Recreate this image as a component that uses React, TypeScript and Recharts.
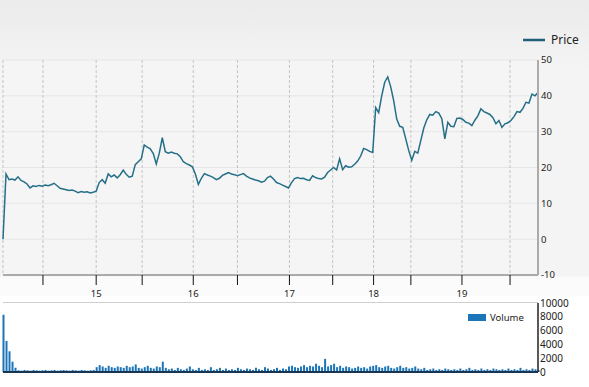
import React from "react";
import { Bar, BarChart, CartesianGrid, Line, LineChart, XAxis, YAxis } from "recharts";

// one value per trading period, left to right
const prices = [
	0, 18.2, 16.6, 16.8, 16.5, 17.4, 16.4, 16.0, 15.4, 14.3,
	14.9, 14.7, 15.0, 14.8, 15.1, 14.9, 15.2, 15.6, 14.9, 14.2,
	14.0, 13.8, 13.6, 13.7, 13.4, 13.0, 13.3, 13.1, 13.2, 12.9,
	13.1, 13.4, 15.8, 16.6, 15.6, 18.2, 17.4, 17.9, 17.1, 18.0,
	19.3, 18.1, 17.3, 17.6, 20.8, 21.6, 22.4, 26.3, 25.7, 25.2,
	23.9, 21.0, 24.0, 28.3, 24.4, 24.0, 24.3, 24.0, 23.8, 23.0,
	21.6, 21.1, 20.7, 20.2, 18.2, 15.3, 17.0, 18.3, 17.9, 17.6,
	17.2, 16.6, 17.0, 17.8, 18.2, 18.6, 18.2, 18.0, 17.7, 18.0,
	18.3, 17.6, 17.1, 16.8, 16.5, 16.3, 15.9, 16.2, 17.2, 17.6,
	16.8, 15.8, 15.5, 15.1, 14.7, 14.3, 15.8, 16.9, 17.2, 16.9,
	17.0, 16.6, 16.4, 17.7, 17.2, 16.9, 16.8, 17.3, 18.6, 19.3,
	20.0, 19.3, 22.4, 19.4, 20.5, 20.1, 20.2, 20.9, 21.8, 23.2,
	25.3, 25.0, 24.5, 24.2, 36.7, 35.3, 40.0, 43.8, 45.3, 42.5,
	38.6, 33.5, 31.5, 31.2, 28.0, 24.7, 22.0, 24.5, 24.0, 27.5,
	31.0, 33.3, 34.8, 34.6, 35.6, 35.2, 33.6, 28.0, 32.6, 31.5,
	31.4, 33.7, 33.8, 33.4, 32.6, 32.4, 31.7, 33.2, 34.4, 36.4,
	35.6, 35.2, 34.8, 33.9, 32.2, 33.1, 31.2, 32.2, 32.5, 33.1,
	34.2, 35.6, 35.4, 36.5, 38.2, 38.0, 40.5, 40.0, 40.9,
];

const volumes = [
	8300, 4500, 3000, 1500, 600, 250, 200, 300, 250, 200,
	300, 250, 200, 250, 300, 200, 250, 300, 200, 250,
	300, 250, 200, 300, 250, 200, 300, 250, 200, 250,
	300, 700, 1000, 800, 600, 900, 700, 600, 800, 700,
	600, 900, 700, 800, 1100, 600, 500, 700, 900, 600,
	500, 800, 700, 1500, 600, 400, 500, 300, 600, 400,
	300, 500, 800, 400, 300, 600, 300, 400, 300, 700,
	300, 400, 600, 300, 500, 300, 400, 300, 600, 400,
	300, 500, 400, 300, 600, 400, 300, 700, 500, 300,
	400, 600, 300, 500, 400, 800, 900, 700, 600, 800,
	1000, 700, 900, 800, 1200, 900, 700, 1900, 800, 1000,
	1200, 700, 900, 600, 800, 700, 500, 600, 800, 600,
	700, 500, 800, 900, 1000, 700, 600, 800, 900, 600,
	500, 700, 900, 600, 700, 500, 600, 800, 500, 400,
	600, 300, 400, 500, 300, 400, 300, 500, 400, 300,
	400, 300, 500, 300, 400, 600, 300, 400, 300, 500,
	300, 400, 300, 500, 400, 300, 400, 300, 500, 300,
	400, 300, 600, 300, 400, 300, 500, 400, 300,
];

const xTicks = [13.3, 31, 46.3, 63.3, 78, 95.3, 109.7, 123.3, 135.7, 152.7, 168.7];
const xTickLabels = ["", "15", "", "16", "", "17", "", "18", "", "19", ""];
const priceTicks = [-10, 0, 10, 20, 30, 40, 50];
const volumeTicks = [0, 2000, 4000, 6000, 8000, 10000];

const data = prices.map((price, i) => ({ i, price, volume: volumes[i] }));

const font = "'Noto Sans', 'DejaVu Sans', sans-serif";

export default function App() {
	return (
		<div
			style={{
				position: "absolute",
				left: 0,
				top: 0,
				width: 589,
				height: 387,
				background: "linear-gradient(#ebebeb, #f4f4f4 70px, #f4f4f4 276px, #fbfbfb 277px, #fbfbfb)",
				fontFamily: font,
				overflow: "hidden",
			}}
		>
			{/* volume panel goes first so the price axis labels sit above it */}
			<div
				style={{
					position: "absolute",
					left: 0,
					top: 296,
					width: 589,
					height: 91,
					background: "#fff",
				}}
			>
				<div
					style={{
						position: "absolute",
						left: 3,
						top: 6,
						width: 535,
						height: 1,
						background: "#cfcfcf",
					}}
				/>
				<div
					style={{
						position: "absolute",
						left: 468,
						top: 15,
						display: "flex",
						alignItems: "center",
						fontSize: 9.5,
						color: "#222",
					}}
				>
					<div style={{ width: 18, height: 7, background: "#1b75b8", marginRight: 4 }} />
					<span>Volume</span>
				</div>
				<BarChart
					width={589}
					height={91}
					data={data}
					margin={{ top: 7, right: 0, bottom: 14, left: 3 }}
					barCategoryGap={0}
				>
					<XAxis
						dataKey="i"
						type="number"
						domain={[0, prices.length - 1]}
						tick={false}
						tickLine={false}
						height={1}
						axisLine={{ stroke: "#1a3552", strokeWidth: 2 }}
					/>
					<YAxis
						orientation="right"
						width={51}
						domain={[0, 10000]}
						ticks={volumeTicks}
						axisLine={{ stroke: "#222", strokeWidth: 1.5 }}
						tickLine={false}
						tickSize={0}
						tickMargin={2}
						tick={{ fontSize: 10, fill: "#222", fontFamily: font }}
						interval={0}
					/>
					<Bar dataKey="volume" fill="#1b75b8" barSize={2} isAnimationActive={false} />
				</BarChart>
			</div>

			<div
				style={{
					position: "absolute",
					left: 523,
					top: 31,
					display: "flex",
					alignItems: "center",
					fontSize: 12,
					color: "#222",
				}}
			>
				<svg width={22} height={4} style={{ marginRight: 6 }}>
					<line x1={0} y1={2} x2={22} y2={2} stroke="#1f5f78" strokeWidth={2.5} />
				</svg>
				<span>Price</span>
			</div>

			<div style={{ position: "absolute", left: 0, top: 0 }}>
				<LineChart
					width={589}
					height={300}
					data={data}
					margin={{ top: 60, right: 0, bottom: 0, left: 3 }}
				>
					<CartesianGrid vertical={false} stroke="#e6e6e6" fill="#f5f5f5" />
					<CartesianGrid horizontal={false} stroke="#c4c4c4" strokeDasharray="3 2" />
					<XAxis
						dataKey="i"
						type="number"
						domain={[0, prices.length - 1]}
						ticks={xTicks}
						tickFormatter={(v) => xTickLabels[xTicks.indexOf(v)] ?? ""}
						height={25}
						axisLine={{ stroke: "#ababab", strokeWidth: 2 }}
						tickLine={{ stroke: "#111", strokeWidth: 1 }}
						tickSize={10}
						tickMargin={5}
						tick={{ fontSize: 9.5, fill: "#222", fontFamily: font }}
						interval={0}
					/>
					<YAxis
						orientation="right"
						width={51}
						domain={[-10, 50]}
						ticks={priceTicks}
						axisLine={{ stroke: "#ababab", strokeWidth: 2 }}
						tickLine={false}
						tickSize={0}
						tickMargin={3}
						tick={{ fontSize: 9.5, fill: "#222", fontFamily: font }}
						interval={0}
					/>
					<Line
						dataKey="price"
						type="linear"
						stroke="#256f88"
						strokeWidth={1.5}
						dot={false}
						isAnimationActive={false}
					/>
				</LineChart>
			</div>
		</div>
	);
}
